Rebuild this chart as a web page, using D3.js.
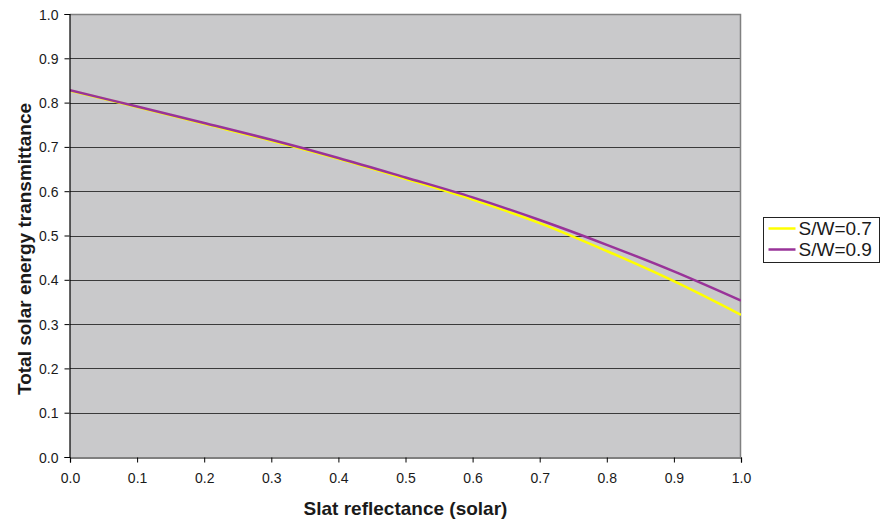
<!DOCTYPE html>
<html>
<head>
<meta charset="utf-8">
<script src="https://cdn.jsdelivr.net/npm/d3@7"></script>
<style>
  html, body { margin: 0; padding: 0; background: #fff; }
  svg { display: block; font-family: "Liberation Sans", Arial, sans-serif; }
</style>
</head>
<body>
<svg id="chart" width="881" height="522"></svg>
<script>
// Slat reflectance (solar) along the x axis
const reflectance = [0.0, 0.1, 0.2, 0.3, 0.4, 0.5, 0.6, 0.7, 0.8, 0.9, 1.0];
// Total solar energy transmittance for two slat spacing/width ratios
const swRatio07 = [0.827, 0.790, 0.752, 0.714, 0.673, 0.628, 0.581, 0.528, 0.465, 0.397, 0.321];
const swRatio09 = [0.828, 0.791, 0.754, 0.716, 0.675, 0.631, 0.586, 0.535, 0.479, 0.419, 0.353];
const seriesNames = ["S/W=0.7", "S/W=0.9"];
const xTickValues = [0.0, 0.1, 0.2, 0.3, 0.4, 0.5, 0.6, 0.7, 0.8, 0.9, 1.0];
const yTickValues = [0.0, 0.1, 0.2, 0.3, 0.4, 0.5, 0.6, 0.7, 0.8, 0.9, 1.0];

const series = [
  { name: seriesNames[0], values: swRatio07, color: "#ffff00" },
  { name: seriesNames[1], values: swRatio09, color: "#993399" }
];

const svg = d3.select("#chart");
const plot = { left: 70, top: 14, right: 741, bottom: 457 };

const x = d3.scaleLinear().domain([0, 1]).range([plot.left, plot.right]);
const y = d3.scaleLinear().domain([0, 1]).range([plot.bottom, plot.top]);

// plot area background
svg.append("rect")
  .attr("x", plot.left).attr("y", plot.top)
  .attr("width", plot.right - plot.left).attr("height", plot.bottom - plot.top)
  .attr("fill", "#c9c9cb");

// horizontal gridlines
svg.append("g")
  .selectAll("line")
  .data(yTickValues.filter(v => v > 0 && v < 1))
  .join("line")
  .attr("x1", plot.left).attr("x2", plot.right)
  .attr("y1", d => Math.round(y(d)) + 0.5).attr("y2", d => Math.round(y(d)) + 0.5)
  .attr("stroke", "#3a3a3a").attr("stroke-width", 1);

// plot border (top and right)
svg.append("path")
  .attr("d", `M${plot.left},${plot.top + 0.5}H${plot.right - 0.5}V${plot.bottom}`)
  .attr("fill", "none").attr("stroke", "#808080").attr("stroke-width", 1.5);

// series lines
const line = d3.line()
  .x((d, i) => x(reflectance[i]))
  .y(d => y(d))
  .curve(d3.curveCatmullRom.alpha(0.5));

svg.append("clipPath").attr("id", "plotClip")
  .append("rect")
  .attr("x", plot.left).attr("y", plot.top)
  .attr("width", plot.right - plot.left).attr("height", plot.bottom - plot.top);

svg.append("g").attr("clip-path", "url(#plotClip)")
  .selectAll("path")
  .data(series)
  .join("path")
  .attr("d", d => line(d.values))
  .attr("fill", "none")
  .attr("stroke", d => d.color)
  .attr("stroke-width", 2.5)
  .attr("stroke-linejoin", "round");

// axes
const fmt = d3.format(".1f");
const xAxis = svg.append("g")
  .attr("transform", `translate(0,${plot.bottom + 0.5})`)
  .call(d3.axisBottom(x).tickValues(xTickValues).tickFormat(fmt).tickSize(5).tickPadding(11));
const yAxis = svg.append("g")
  .attr("transform", `translate(${plot.left - 0.5},0)`)
  .call(d3.axisLeft(y).tickValues(yTickValues).tickFormat(fmt).tickSize(5).tickPadding(6));

[xAxis, yAxis].forEach(g => {
  g.select(".domain").attr("stroke", "#000").attr("stroke-width", 1.2);
  g.selectAll(".tick line").attr("stroke", "#000");
  g.selectAll(".tick text")
    .attr("fill", "#1a1a1a")
    .style("font-size", "14px")
    .style("font-family", "'Liberation Sans', Arial, sans-serif");
});
yAxis.selectAll(".tick text").attr("dy", "0.36em");

// axis titles
svg.append("text")
  .attr("x", (plot.left + plot.right) / 2)
  .attr("y", 515)
  .attr("text-anchor", "middle")
  .style("font-size", "19px").style("font-weight", "bold")
  .attr("fill", "#1a1a1a")
  .text("Slat reflectance (solar)");

svg.append("text")
  .attr("transform", "translate(31,249) rotate(-90)")
  .attr("text-anchor", "middle")
  .style("font-size", "19px").style("font-weight", "bold")
  .attr("fill", "#1a1a1a")
  .text("Total solar energy transmittance");

// legend
const legend = svg.append("g").attr("transform", "translate(763.5,217.5)");
legend.append("rect")
  .attr("width", 116).attr("height", 45)
  .attr("fill", "#fff").attr("stroke", "#222").attr("stroke-width", 1);
const entries = legend.selectAll("g.entry")
  .data(series)
  .join("g")
  .attr("class", "entry")
  .attr("transform", (d, i) => `translate(0,${11 + i * 21})`);
entries.append("line")
  .attr("x1", 5).attr("x2", 32).attr("y1", 0).attr("y2", 0)
  .attr("stroke", d => d.color).attr("stroke-width", 2.5);
entries.append("text")
  .attr("x", 35).attr("y", 0).attr("dy", "0.36em")
  .style("font-size", "19px")
  .attr("fill", "#1a1a1a")
  .text(d => d.name);
</script>
</body>
</html>
